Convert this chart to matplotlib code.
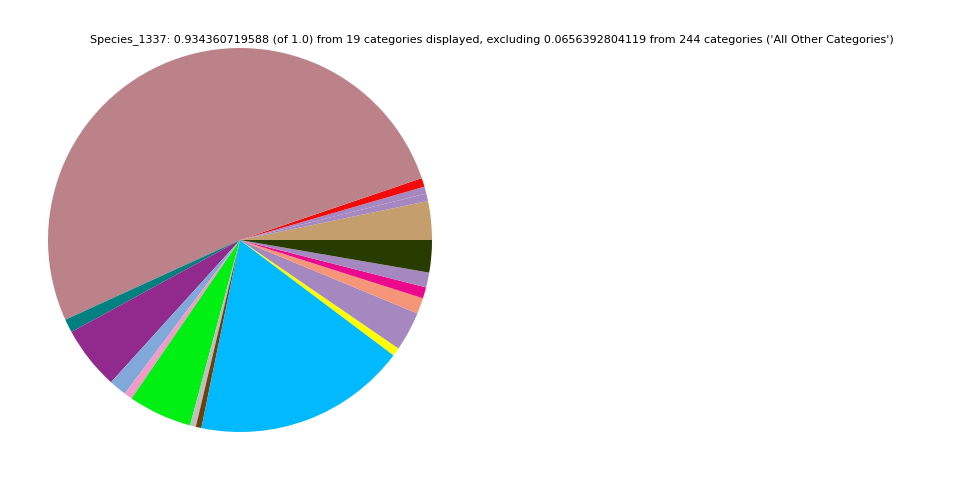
import matplotlib
matplotlib.use("Agg")
import matplotlib.pyplot as plt

# slices, counterclockwise from 3 o'clock
categories = ["c01", "c02", "c03", "c04", "c05", "c06", "c07", "c08", "c09", "c10",
              "c11", "c12", "c13", "c14", "c15", "c16", "c17", "c18", "c19"]
values = [0.0304, 0.0060, 0.0055, 0.0069, 0.4822, 0.0106, 0.0498, 0.0138, 0.0065, 0.0501,
          0.0046, 0.0044, 0.1680, 0.0065, 0.0309, 0.0125, 0.0088, 0.0117, 0.0254]
colors = ["#C49E6C", "#A588C0", "#A588C0", "#F00A0A", "#BC828A", "#008080", "#912A8C",
          "#80A8D8", "#F09BC8", "#00F014", "#BEBEBE", "#6E410A", "#00B9FF", "#FFFF00",
          "#A588C0", "#F59678", "#EB0A8C", "#A588C0", "#283C00"]

TITLE = ("Species_1337: 0.934360719588 (of 1.0) from 19 categories displayed, "
         "excluding 0.0656392804119 from 244 categories ('All Other Categories')")

fig = plt.figure(figsize=(9.6, 4.8), dpi=100)
ax = fig.add_axes([0.05, 0.1, 0.4, 0.8])
ax.pie(values, colors=colors, startangle=0, counterclock=True)
ax.set_xlim(-1, 1); ax.set_ylim(-1, 1)
ax.set_aspect("equal")

fig.text(0.5125, 1 - 40 / 480, TITLE, ha="center", va="center", fontsize=8)

fig.savefig("out.png", dpi=100, facecolor="white")
